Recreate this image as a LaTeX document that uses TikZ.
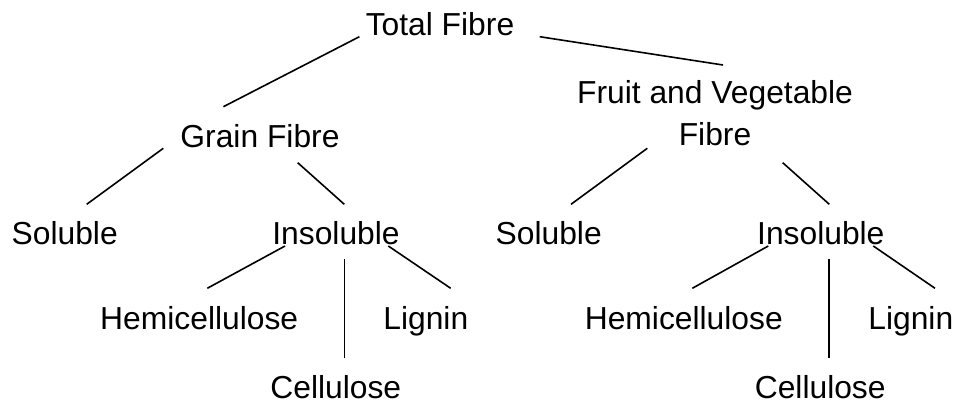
\documentclass[tikz,border=0pt]{standalone}
\usepackage{fontspec}
\setmainfont{Liberation Sans}
\begin{document}
\begin{tikzpicture}[x=1pt,y=-1pt,
  lbl/.style={inner sep=0pt,anchor=base,font=\fontsize{31.8}{38}\selectfont},
  conn/.style={line width=1.6pt,black}]
\useasboundingbox (0,0) rectangle (963,407);
\node[lbl] (total) at (440,35) {Total Fibre};
\node[lbl] (grain) at (260,147) {Grain Fibre};
\node[lbl] (fruit) at (715,103) {Fruit and Vegetable};
\node[lbl] (fibre) at (715,145) {Fibre};
\node[lbl] (solL) at (64.7,244) {Soluble};
\node[lbl] (insL) at (336,244) {Insoluble};
\node[lbl] (solR) at (548.7,244) {Soluble};
\node[lbl] (insR) at (820.8,244) {Insoluble};
\node[lbl] (hemL) at (199.2,329) {Hemicellulose};
\node[lbl] (ligL) at (425.8,329) {Lignin};
\node[lbl] (celL) at (335.8,398) {Cellulose};
\node[lbl] (hemR) at (683.8,329) {Hemicellulose};
\node[lbl] (ligR) at (910.8,329) {Lignin};
\node[lbl] (celR) at (820.2,398) {Cellulose};
\draw[conn] ([shift={(-80.6,1.7)}]total.base) -- ([shift={(-36.6,-40.3)}]grain.base);
\draw[conn] ([shift={(99.7,1.7)}]total.base) -- ([shift={(8,-38)}]fruit.base);
\draw[conn] ([shift={(-96.7,1.3)}]grain.base) -- ([shift={(22,-39.7)}]solL.base);
\draw[conn] ([shift={(37.7,15.7)}]grain.base) -- ([shift={(8.3,-39.7)}]insL.base);
\draw[conn] ([shift={(-67.7,3.3)}]fibre.base) -- ([shift={(22.3,-39.7)}]solR.base);
\draw[conn] ([shift={(67.7,17.7)}]fibre.base) -- ([shift={(8.5,-39.7)}]insR.base);
\draw[conn] ([shift={(-51,2)}]insL.base) -- ([shift={(8.1,-40.7)}]hemL.base);
\draw[conn] ([shift={(8.3,15.3)}]insL.base) -- ([shift={(8.5,-39.7)}]celL.base);
\draw[conn] ([shift={(52.3,2)}]insL.base) -- ([shift={(24.9,-40.7)}]ligL.base);
\draw[conn] ([shift={(-52.5,2)}]insR.base) -- ([shift={(8.5,-40.7)}]hemR.base);
\draw[conn] ([shift={(8.2,15.3)}]insR.base) -- ([shift={(8.8,-39.7)}]celR.base);
\draw[conn] ([shift={(52.5,2)}]insR.base) -- ([shift={(24.2,-40.7)}]ligR.base);
\end{tikzpicture}
\end{document}
